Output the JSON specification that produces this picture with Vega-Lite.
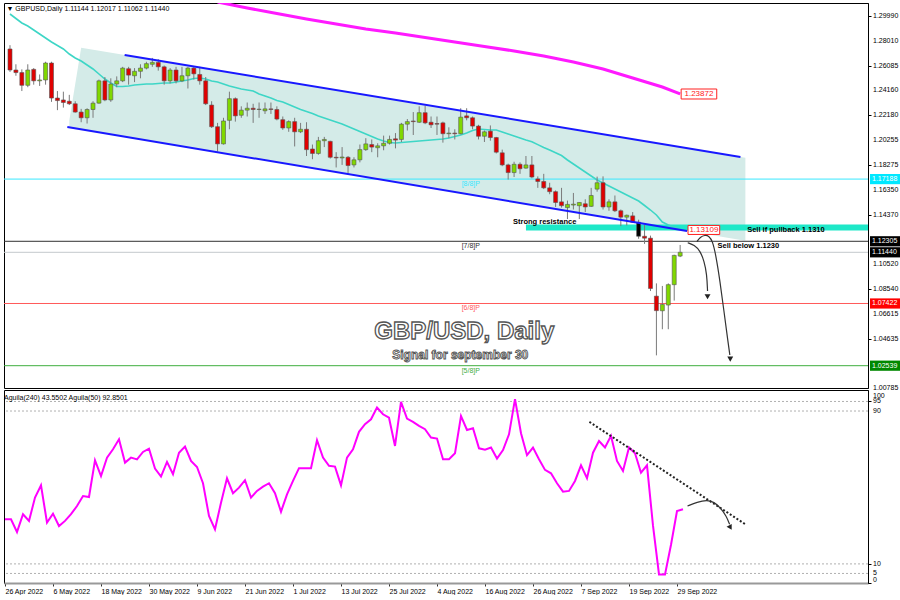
{
  "$schema": "https://vega.github.io/schema/vega-lite/v6.json",
  "background": "white",
  "padding": {"left": 0, "top": 2, "right": 0, "bottom": 0},
  "spacing": 2,
  "bounds": "flush",
  "config": {
    "view": {"stroke": "#000000", "strokeWidth": 1},
    "font": "Liberation Sans",
    "axis": {"labelFont": "Liberation Sans", "labelFontSize": 7, "labelColor": "#000000", "tickColor": "#000000", "domainColor": "#000000", "grid": false, "title": null, "labelOverlap": false, "labelBound": false}
  },
  "datasets": {
    "candles": [
      {"t":0,"date":"2022-04-26","o":1.2740,"h":1.2770,"l":1.2560,"c":1.2575,"ma":1.30147,"osc":33.3},
      {"t":1,"date":"2022-04-27","o":1.2575,"h":1.2620,"l":1.2530,"c":1.2555,"ma":1.29794,"osc":33.3},
      {"t":2,"date":"2022-04-28","o":1.2555,"h":1.2580,"l":1.2410,"c":1.2455,"ma":1.29441,"osc":26.7},
      {"t":3,"date":"2022-04-29","o":1.2455,"h":1.2620,"l":1.2440,"c":1.2575,"ma":1.29205,"osc":36.0},
      {"t":4,"date":"2022-05-02","o":1.2580,"h":1.2590,"l":1.2460,"c":1.2490,"ma":1.28891,"osc":32.5},
      {"t":5,"date":"2022-05-03","o":1.2490,"h":1.2540,"l":1.2450,"c":1.2497,"ma":1.28577,"osc":44.7},
      {"t":6,"date":"2022-05-04","o":1.2497,"h":1.2640,"l":1.2460,"c":1.2630,"ma":1.28263,"osc":51.1},
      {"t":7,"date":"2022-05-05","o":1.2630,"h":1.2640,"l":1.2325,"c":1.2355,"ma":1.27949,"osc":31.6},
      {"t":8,"date":"2022-05-06","o":1.2355,"h":1.2410,"l":1.2260,"c":1.2335,"ma":1.27674,"osc":36.3},
      {"t":9,"date":"2022-05-09","o":1.2340,"h":1.2405,"l":1.2280,"c":1.2320,"ma":1.27400,"osc":29.8},
      {"t":10,"date":"2022-05-10","o":1.2330,"h":1.2380,"l":1.2300,"c":1.2310,"ma":1.27007,"osc":32.5},
      {"t":11,"date":"2022-05-11","o":1.2310,"h":1.2330,"l":1.2240,"c":1.2245,"ma":1.26693,"osc":36.0},
      {"t":12,"date":"2022-05-12","o":1.2245,"h":1.2270,"l":1.2165,"c":1.2200,"ma":1.26458,"osc":40.3},
      {"t":13,"date":"2022-05-13","o":1.2200,"h":1.2275,"l":1.2155,"c":1.2265,"ma":1.26144,"osc":45.5},
      {"t":14,"date":"2022-05-16","o":1.2265,"h":1.2330,"l":1.2200,"c":1.2315,"ma":1.25830,"osc":45.0},
      {"t":15,"date":"2022-05-17","o":1.2315,"h":1.2500,"l":1.2310,"c":1.2490,"ma":1.25437,"osc":64.2},
      {"t":16,"date":"2022-05-18","o":1.2490,"h":1.2520,"l":1.2330,"c":1.2340,"ma":1.25045,"osc":56.0},
      {"t":17,"date":"2022-05-19","o":1.2340,"h":1.2510,"l":1.2325,"c":1.2465,"ma":1.24730,"osc":65.6},
      {"t":18,"date":"2022-05-20","o":1.2465,"h":1.2525,"l":1.2440,"c":1.2490,"ma":1.24456,"osc":70.0},
      {"t":19,"date":"2022-05-23","o":1.2490,"h":1.2600,"l":1.2480,"c":1.2590,"ma":1.24456,"osc":75.2},
      {"t":20,"date":"2022-05-24","o":1.2585,"h":1.2600,"l":1.2460,"c":1.2535,"ma":1.24495,"osc":63.0},
      {"t":21,"date":"2022-05-25","o":1.2530,"h":1.2590,"l":1.2480,"c":1.2565,"ma":1.24574,"osc":65.6},
      {"t":22,"date":"2022-05-26","o":1.2565,"h":1.2620,"l":1.2510,"c":1.2590,"ma":1.24613,"osc":64.7},
      {"t":23,"date":"2022-05-27","o":1.2590,"h":1.2640,"l":1.2580,"c":1.2625,"ma":1.24652,"osc":68.6},
      {"t":24,"date":"2022-05-30","o":1.2620,"h":1.2670,"l":1.2600,"c":1.2635,"ma":1.24652,"osc":70.3},
      {"t":25,"date":"2022-05-31","o":1.2635,"h":1.2660,"l":1.2570,"c":1.2600,"ma":1.24692,"osc":59.9},
      {"t":26,"date":"2022-06-01","o":1.2600,"h":1.2610,"l":1.2460,"c":1.2490,"ma":1.24731,"osc":55.7},
      {"t":27,"date":"2022-06-02","o":1.2490,"h":1.2590,"l":1.2470,"c":1.2575,"ma":1.24731,"osc":63.4},
      {"t":28,"date":"2022-06-03","o":1.2575,"h":1.2600,"l":1.2470,"c":1.2490,"ma":1.24809,"osc":56.9},
      {"t":29,"date":"2022-06-06","o":1.2490,"h":1.2600,"l":1.2480,"c":1.2530,"ma":1.24888,"osc":68.2},
      {"t":30,"date":"2022-06-07","o":1.2530,"h":1.2600,"l":1.2430,"c":1.2590,"ma":1.24966,"osc":71.4},
      {"t":31,"date":"2022-06-08","o":1.2590,"h":1.2600,"l":1.2500,"c":1.2545,"ma":1.25084,"osc":63.9},
      {"t":32,"date":"2022-06-09","o":1.2540,"h":1.2600,"l":1.2460,"c":1.2490,"ma":1.25123,"osc":60.7},
      {"t":33,"date":"2022-06-10","o":1.2490,"h":1.2520,"l":1.2300,"c":1.2310,"ma":1.25045,"osc":52.2},
      {"t":34,"date":"2022-06-13","o":1.2300,"h":1.2330,"l":1.2120,"c":1.2130,"ma":1.24888,"osc":35.1},
      {"t":35,"date":"2022-06-14","o":1.2130,"h":1.2160,"l":1.1935,"c":1.1995,"ma":1.24809,"osc":28.1},
      {"t":36,"date":"2022-06-15","o":1.1995,"h":1.2200,"l":1.1990,"c":1.2175,"ma":1.24652,"osc":42.0},
      {"t":37,"date":"2022-06-16","o":1.2180,"h":1.2405,"l":1.2110,"c":1.2350,"ma":1.24495,"osc":54.8},
      {"t":38,"date":"2022-06-17","o":1.2350,"h":1.2360,"l":1.2170,"c":1.2215,"ma":1.24377,"osc":47.0},
      {"t":39,"date":"2022-06-20","o":1.2220,"h":1.2290,"l":1.2200,"c":1.2260,"ma":1.24260,"osc":49.9},
      {"t":40,"date":"2022-06-21","o":1.2260,"h":1.2320,"l":1.2210,"c":1.2275,"ma":1.24181,"osc":53.8},
      {"t":41,"date":"2022-06-22","o":1.2275,"h":1.2310,"l":1.2160,"c":1.2265,"ma":1.24103,"osc":44.7},
      {"t":42,"date":"2022-06-23","o":1.2265,"h":1.2320,"l":1.2200,"c":1.2268,"ma":1.23867,"osc":48.2},
      {"t":43,"date":"2022-06-24","o":1.2255,"h":1.2320,"l":1.2230,"c":1.2270,"ma":1.23710,"osc":50.4},
      {"t":44,"date":"2022-06-27","o":1.2270,"h":1.2320,"l":1.2230,"c":1.2265,"ma":1.23553,"osc":52.2},
      {"t":45,"date":"2022-06-28","o":1.2265,"h":1.2290,"l":1.2180,"c":1.2190,"ma":1.23357,"osc":47.0},
      {"t":46,"date":"2022-06-29","o":1.2185,"h":1.2210,"l":1.2105,"c":1.2120,"ma":1.23239,"osc":37.3},
      {"t":47,"date":"2022-06-30","o":1.2120,"h":1.2180,"l":1.2090,"c":1.2170,"ma":1.23043,"osc":46.4},
      {"t":48,"date":"2022-07-01","o":1.2170,"h":1.2200,"l":1.1975,"c":1.2090,"ma":1.22846,"osc":53.4},
      {"t":49,"date":"2022-07-04","o":1.2090,"h":1.2160,"l":1.2080,"c":1.2110,"ma":1.22650,"osc":60.1},
      {"t":50,"date":"2022-07-05","o":1.2110,"h":1.2165,"l":1.1900,"c":1.1950,"ma":1.22493,"osc":60.1},
      {"t":51,"date":"2022-07-06","o":1.1955,"h":1.1990,"l":1.1875,"c":1.1920,"ma":1.22336,"osc":60.1},
      {"t":52,"date":"2022-07-07","o":1.1920,"h":1.2050,"l":1.1910,"c":1.2020,"ma":1.22140,"osc":74.7},
      {"t":53,"date":"2022-07-08","o":1.2020,"h":1.2050,"l":1.1970,"c":1.2030,"ma":1.21983,"osc":65.6},
      {"t":54,"date":"2022-07-11","o":1.2015,"h":1.2020,"l":1.1880,"c":1.1890,"ma":1.21826,"osc":61.3},
      {"t":55,"date":"2022-07-12","o":1.1890,"h":1.1930,"l":1.1810,"c":1.1885,"ma":1.21669,"osc":60.9},
      {"t":56,"date":"2022-07-13","o":1.1885,"h":1.1970,"l":1.1830,"c":1.1892,"ma":1.21512,"osc":51.1},
      {"t":57,"date":"2022-07-14","o":1.1890,"h":1.1900,"l":1.1760,"c":1.1825,"ma":1.21316,"osc":65.6},
      {"t":58,"date":"2022-07-15","o":1.1830,"h":1.1890,"l":1.1810,"c":1.1870,"ma":1.21119,"osc":70.0},
      {"t":59,"date":"2022-07-18","o":1.1870,"h":1.1990,"l":1.1850,"c":1.1950,"ma":1.20923,"osc":79.1},
      {"t":60,"date":"2022-07-19","o":1.1950,"h":1.2040,"l":1.1940,"c":1.1995,"ma":1.20727,"osc":83.1},
      {"t":61,"date":"2022-07-20","o":1.1990,"h":1.2030,"l":1.1930,"c":1.1970,"ma":1.20531,"osc":85.7},
      {"t":62,"date":"2022-07-21","o":1.1965,"h":1.2000,"l":1.1890,"c":1.1980,"ma":1.20334,"osc":91.8},
      {"t":63,"date":"2022-07-22","o":1.1980,"h":1.2060,"l":1.1945,"c":1.2000,"ma":1.20178,"osc":88.3},
      {"t":64,"date":"2022-07-25","o":1.2000,"h":1.2060,"l":1.1990,"c":1.2030,"ma":1.20060,"osc":86.5},
      {"t":65,"date":"2022-07-26","o":1.2035,"h":1.2080,"l":1.1960,"c":1.2025,"ma":1.20020,"osc":71.7},
      {"t":66,"date":"2022-07-27","o":1.2030,"h":1.2160,"l":1.2010,"c":1.2150,"ma":1.20060,"osc":94.8},
      {"t":67,"date":"2022-07-28","o":1.2150,"h":1.2190,"l":1.2100,"c":1.2170,"ma":1.20099,"osc":86.0},
      {"t":68,"date":"2022-07-29","o":1.2175,"h":1.2245,"l":1.2065,"c":1.2170,"ma":1.20139,"osc":84.3},
      {"t":69,"date":"2022-08-01","o":1.2165,"h":1.2290,"l":1.2160,"c":1.2240,"ma":1.20178,"osc":82.2},
      {"t":70,"date":"2022-08-02","o":1.2240,"h":1.2295,"l":1.2150,"c":1.2160,"ma":1.20217,"osc":80.5},
      {"t":71,"date":"2022-08-03","o":1.2165,"h":1.2210,"l":1.2120,"c":1.2145,"ma":1.20256,"osc":76.1},
      {"t":72,"date":"2022-08-04","o":1.2155,"h":1.2210,"l":1.2065,"c":1.2150,"ma":1.20296,"osc":75.6},
      {"t":73,"date":"2022-08-05","o":1.2160,"h":1.2170,"l":1.2005,"c":1.2075,"ma":1.20335,"osc":64.8},
      {"t":74,"date":"2022-08-08","o":1.2075,"h":1.2125,"l":1.2040,"c":1.2080,"ma":1.20413,"osc":64.8},
      {"t":75,"date":"2022-08-09","o":1.2080,"h":1.2110,"l":1.2030,"c":1.2075,"ma":1.20531,"osc":67.9},
      {"t":76,"date":"2022-08-10","o":1.2075,"h":1.2275,"l":1.2070,"c":1.2205,"ma":1.20649,"osc":87.4},
      {"t":77,"date":"2022-08-11","o":1.2215,"h":1.2275,"l":1.2180,"c":1.2200,"ma":1.20806,"osc":80.1},
      {"t":78,"date":"2022-08-12","o":1.2200,"h":1.2210,"l":1.2110,"c":1.2135,"ma":1.21002,"osc":81.0},
      {"t":79,"date":"2022-08-15","o":1.2135,"h":1.2145,"l":1.2030,"c":1.2055,"ma":1.21120,"osc":70.5},
      {"t":80,"date":"2022-08-16","o":1.2055,"h":1.2100,"l":1.2010,"c":1.2090,"ma":1.21080,"osc":69.8},
      {"t":81,"date":"2022-08-17","o":1.2095,"h":1.2140,"l":1.2020,"c":1.2045,"ma":1.21041,"osc":70.9},
      {"t":82,"date":"2022-08-18","o":1.2045,"h":1.2050,"l":1.1920,"c":1.1930,"ma":1.21041,"osc":65.1},
      {"t":83,"date":"2022-08-19","o":1.1925,"h":1.1950,"l":1.1820,"c":1.1830,"ma":1.20884,"osc":69.6},
      {"t":84,"date":"2022-08-22","o":1.1830,"h":1.1840,"l":1.1715,"c":1.1770,"ma":1.20727,"osc":77.8},
      {"t":85,"date":"2022-08-23","o":1.1770,"h":1.1855,"l":1.1735,"c":1.1835,"ma":1.20570,"osc":96.2},
      {"t":86,"date":"2022-08-24","o":1.1835,"h":1.1850,"l":1.1760,"c":1.1800,"ma":1.20413,"osc":78.4},
      {"t":87,"date":"2022-08-25","o":1.1805,"h":1.1900,"l":1.1800,"c":1.1830,"ma":1.20256,"osc":66.9},
      {"t":88,"date":"2022-08-26","o":1.1830,"h":1.1900,"l":1.1725,"c":1.1735,"ma":1.20123,"osc":70.9},
      {"t":89,"date":"2022-08-29","o":1.1720,"h":1.1740,"l":1.1650,"c":1.1700,"ma":1.19895,"osc":64.8},
      {"t":90,"date":"2022-08-30","o":1.1700,"h":1.1760,"l":1.1640,"c":1.1650,"ma":1.19675,"osc":59.2},
      {"t":91,"date":"2022-08-31","o":1.1650,"h":1.1690,"l":1.1600,"c":1.1620,"ma":1.19471,"osc":57.4},
      {"t":92,"date":"2022-09-01","o":1.1620,"h":1.1630,"l":1.1500,"c":1.1535,"ma":1.19251,"osc":52.2},
      {"t":93,"date":"2022-09-02","o":1.1540,"h":1.1650,"l":1.1495,"c":1.1510,"ma":1.19039,"osc":47.8},
      {"t":94,"date":"2022-09-05","o":1.1495,"h":1.1550,"l":1.1405,"c":1.1520,"ma":1.18686,"osc":48.2},
      {"t":95,"date":"2022-09-06","o":1.1515,"h":1.1610,"l":1.1480,"c":1.1522,"ma":1.18372,"osc":53.4},
      {"t":96,"date":"2022-09-07","o":1.1510,"h":1.1535,"l":1.1405,"c":1.1535,"ma":1.18058,"osc":61.6},
      {"t":97,"date":"2022-09-08","o":1.1525,"h":1.1560,"l":1.1460,"c":1.1500,"ma":1.17744,"osc":54.8},
      {"t":98,"date":"2022-09-09","o":1.1505,"h":1.1650,"l":1.1500,"c":1.1590,"ma":1.17430,"osc":68.2},
      {"t":99,"date":"2022-09-12","o":1.1640,"h":1.1738,"l":1.1620,"c":1.1690,"ma":1.17116,"osc":74.3},
      {"t":100,"date":"2022-09-13","o":1.1690,"h":1.1740,"l":1.1480,"c":1.1500,"ma":1.16880,"osc":70.9},
      {"t":101,"date":"2022-09-14","o":1.1500,"h":1.1560,"l":1.1470,"c":1.1540,"ma":1.16645,"osc":77.0},
      {"t":102,"date":"2022-09-15","o":1.1540,"h":1.1590,"l":1.1460,"c":1.1470,"ma":1.16409,"osc":63.9},
      {"t":103,"date":"2022-09-16","o":1.1470,"h":1.1480,"l":1.1350,"c":1.1420,"ma":1.16174,"osc":58.6},
      {"t":104,"date":"2022-09-19","o":1.1420,"h":1.1440,"l":1.1355,"c":1.1435,"ma":1.15939,"osc":70.9},
      {"t":105,"date":"2022-09-20","o":1.1430,"h":1.1460,"l":1.1375,"c":1.1380,"ma":1.15703,"osc":67.9},
      {"t":106,"date":"2022-09-21","o":1.1380,"h":1.1400,"l":1.1250,"c":1.1270,"ma":1.15468,"osc":57.7},
      {"t":107,"date":"2022-09-22","o":1.1270,"h":1.1360,"l":1.1210,"c":1.1255,"ma":1.15114,"osc":61.6},
      {"t":108,"date":"2022-09-23","o":1.1255,"h":1.1275,"l":1.0840,"c":1.0860,"ma":1.14761,"osc":30.0},
      {"t":109,"date":"2022-09-26","o":1.0800,"h":1.0900,"l":1.0335,"c":1.0686,"ma":1.14369,"osc":4.5},
      {"t":110,"date":"2022-09-27","o":1.0685,"h":1.0880,"l":1.0540,"c":1.0735,"ma":1.13819,"osc":4.5},
      {"t":111,"date":"2022-09-28","o":1.0730,"h":1.0900,"l":1.0540,"c":1.0890,"ma":1.13584,"osc":20.0},
      {"t":112,"date":"2022-09-29","o":1.0890,"h":1.1125,"l":1.0765,"c":1.1120,"ma":1.13427,"osc":37.7},
      {"t":113,"date":"2022-09-30","o":1.11144,"h":1.12017,"l":1.11062,"c":1.1144,"ma":1.13270,"osc":38.6}
    ],
    "ma200": [
      {"t":35,"p":1.31089},{"t":40,"p":1.30618},{"t":45,"p":1.30186},{"t":50,"p":1.29755},
      {"t":55,"p":1.29362},{"t":60,"p":1.28970},{"t":65,"p":1.28656},{"t":70,"p":1.28302},
      {"t":75,"p":1.27949},{"t":80,"p":1.27596},{"t":85,"p":1.27243},{"t":90,"p":1.26850},
      {"t":95,"p":1.26379},{"t":100,"p":1.25830},{"t":105,"p":1.25123},{"t":110,"p":1.24416},
      {"t":113,"p":1.23872}
    ],
    "channel": [
      {"line":"upper","t":19.33,"p":1.26929},{"line":"upper","t":123.17,"p":1.18921},
      {"line":"lower","t":9.67,"p":1.21277},{"line":"lower","t":114.17,"p":1.13109}
    ],
    "channelFill": [
      {"t":10,"top":1.21795,"bot":1.21253},
      {"t":12,"top":1.27494,"bot":1.21096},
      {"t":124,"top":1.18859,"bot":1.12343}
    ],
    "levels": [
      {"level":"8/8","price":1.17188,"label":"[8/8]P","t":77.7},
      {"level":"7/8","price":1.12305,"label":"[7/8]P","t":77.7},
      {"level":"bid","price":1.1144,"label":"","t":77.7},
      {"level":"6/8","price":1.07422,"label":"[6/8]P","t":77.7},
      {"level":"5/8","price":1.02539,"label":"[5/8]P","t":77.7}
    ],
    "priceTicks": [
      {"p":1.2999},{"p":1.2801},{"p":1.26085},{"p":1.2416},{"p":1.2218},{"p":1.20255},{"p":1.18275},
      {"p":1.1635},{"p":1.1437},{"p":1.1052},{"p":1.0854},{"p":1.06615},{"p":1.04635},{"p":1.00785}
    ],
    "oscTicks": [{"v":0},{"v":5},{"v":10},{"v":90},{"v":95},{"v":100}],
    "band": [{"t":87,"p1":1.1362,"p2":1.1315}],
    "tags": [
      {"t1":114.33,"t2":119.67,"p1":1.13547,"p2":1.12841,"tc":117.0,"pc":1.13194,"label":"1.13109"},
      {"t1":113.17,"t2":119.17,"p1":1.24259,"p2":1.23475,"tc":116.17,"pc":1.23867,"label":"1.23872"}
    ],
    "notesRight": [{"t":95.5,"p":1.13843,"text":"Strong resistance"}],
    "notesLeft": [
      {"t":124.3,"p":1.13191,"text":"Sell if pullback 1.1310"},
      {"t":119.3,"p":1.11959,"text":"Sell below 1.1230"}
    ],
    "arrows": [
      {"arrow":"a1","k":0,"t":114.28,"p":1.12194},{"arrow":"a1","k":1,"t":115.38,"p":1.12014},
      {"arrow":"a1","k":2,"t":116.38,"p":1.11542},{"arrow":"a1","k":3,"t":117.05,"p":1.10757},
      {"arrow":"a1","k":4,"t":117.5,"p":1.09713},{"arrow":"a1","k":5,"t":117.62,"p":1.08403},
      {"arrow":"a2","k":0,"t":115.83,"p":1.12272},{"arrow":"a2","k":1,"t":116.38,"p":1.12642},
      {"arrow":"a2","k":2,"t":117.17,"p":1.12799},{"arrow":"a2","k":3,"t":117.88,"p":1.1272},
      {"arrow":"a2","k":4,"t":118.45,"p":1.12328},{"arrow":"a2","k":5,"t":119.0,"p":1.11283},
      {"arrow":"a2","k":6,"t":119.72,"p":1.09188},{"arrow":"a2","k":7,"t":120.38,"p":1.06833},
      {"arrow":"a2","k":8,"t":121.05,"p":1.04478},{"arrow":"a2","k":9,"t":121.38,"p":1.03379}
    ],
    "heads": [{"t":117.62,"p":1.0795},{"t":121.45,"p":1.0305}],
    "bigTitle": [{"t":76.6,"p":1.05184,"text":"GBP/USD, Daily"}],
    "subTitle": [{"t":75.92,"p":1.03379,"text":"Signal for september 30"}],
    "oscGrid": [{"v":5},{"v":10},{"v":90},{"v":95}],
    "oscTrend": [{"t":97.4,"v":84.3},{"t":123.4,"v":30.7}],
    "oscArrow": [
      {"k":0,"t":113.75,"v":40.3},{"k":1,"t":115.37,"v":42.4},{"k":2,"t":116.98,"v":43.4},
      {"k":3,"t":118.18,"v":42.4},{"k":4,"t":119.23,"v":39.4},{"k":5,"t":120.22,"v":35.1},
      {"k":6,"t":120.77,"v":30.7}
    ],
    "oscHead": [{"t":120.9,"v":29.0}]
  },
  "vconcat": [
    {
      "width": 864,
      "height": 385,
      "title": {"text": "▼ GBPUSD,Daily  1.11144 1.12017 1.11062 1.11440", "anchor": "start", "offset": -8.5, "dx": 3, "fontSize": 7, "fontWeight": "normal", "font": "Liberation Sans", "color": "#000000", "baseline": "top"},
      "layer": [
        {
          "data": {"name": "channelFill"},
          "mark": {"type": "area", "color": "#d4ebe8", "opacity": 1},
          "encoding": {
            "x": {"field": "t", "type": "quantitative", "scale": {"domain": [-0.167, 143.833], "nice": false, "zero": false}, "axis": null},
            "y": {"field": "top", "type": "quantitative", "scale": {"domain": [1.00788, 1.31011], "nice": false, "zero": false},
                  "axis": {"orient": "right", "title": null, "values": [1.2999, 1.2801, 1.26085, 1.2416, 1.2218, 1.20255, 1.18275, 1.1635, 1.1437, 1.1052, 1.0854, 1.06615, 1.04635, 1.00785], "labels": false, "tickSize": 3}},
            "y2": {"field": "bot"}
          }
        },
        {
          "data": {"name": "priceTicks"},
          "mark": {"type": "text", "align": "left", "baseline": "middle", "fontSize": 7, "font": "Liberation Sans", "color": "#000000", "xOffset": 5},
          "encoding": {
            "x": {"value": "width"},
            "y": {"field": "p", "type": "quantitative", "scale": {"domain": [1.00788, 1.31011], "nice": false, "zero": false}},
            "text": {"field": "p", "format": ".5f"}
          }
        },
        {
          "data": {"name": "levels"},
          "mark": {"type": "rule", "strokeWidth": 1},
          "encoding": {
            "y": {"field": "price", "type": "quantitative", "scale": {"domain": [1.00788, 1.31011], "nice": false, "zero": false}},
            "color": {"field": "level", "type": "nominal", "legend": null,
                      "scale": {"domain": ["8/8", "7/8", "bid", "6/8", "5/8"], "range": ["#38e8ff", "#303030", "#c4c8cc", "#ff5a5a", "#3fae3f"]}}
          }
        },
        {
          "data": {"name": "band"},
          "mark": {"type": "rect", "color": "#1ee8c8"},
          "encoding": {
            "x": {"field": "t", "type": "quantitative", "scale": {"domain": [-0.167, 143.833], "nice": false, "zero": false}, "axis": null},
            "x2": {"value": "width"},
            "y": {"field": "p1", "type": "quantitative", "scale": {"domain": [1.00788, 1.31011], "nice": false, "zero": false}},
            "y2": {"field": "p2"}
          }
        },
        {
          "data": {"name": "ma200"},
          "mark": {"type": "line", "color": "#ff1aff", "strokeWidth": 3, "clip": true},
          "encoding": {
            "x": {"field": "t", "type": "quantitative", "scale": {"domain": [-0.167, 143.833], "nice": false, "zero": false}, "axis": null},
            "y": {"field": "p", "type": "quantitative", "scale": {"domain": [1.00788, 1.31011], "nice": false, "zero": false}}
          }
        },
        {
          "data": {"name": "candles"},
          "mark": {"type": "line", "color": "#3ed6c6", "strokeWidth": 1.6, "clip": true},
          "encoding": {
            "x": {"field": "t", "type": "quantitative", "scale": {"domain": [-0.167, 143.833], "nice": false, "zero": false}, "axis": null},
            "y": {"field": "ma", "type": "quantitative", "scale": {"domain": [1.00788, 1.31011], "nice": false, "zero": false}}
          }
        },
        {
          "data": {"name": "candles"},
          "mark": {"type": "rule", "color": "#7a7a7a", "strokeWidth": 1},
          "encoding": {
            "x": {"field": "t", "type": "quantitative", "scale": {"domain": [-0.167, 143.833], "nice": false, "zero": false}, "axis": null},
            "y": {"field": "l", "type": "quantitative", "scale": {"domain": [1.00788, 1.31011], "nice": false, "zero": false}},
            "y2": {"field": "h"}
          }
        },
        {
          "data": {"name": "candles"},
          "mark": {"type": "bar", "width": 4, "stroke": "#555555", "strokeWidth": 0.6},
          "encoding": {
            "x": {"field": "t", "type": "quantitative", "scale": {"domain": [-0.167, 143.833], "nice": false, "zero": false}, "axis": null},
            "y": {"field": "o", "type": "quantitative", "scale": {"domain": [1.00788, 1.31011], "nice": false, "zero": false}},
            "y2": {"field": "c"},
            "fill": {"condition": [{"test": "datum.date === '2022-09-21'", "value": "#000000"}, {"test": "datum.c >= datum.o", "value": "#80d800"}], "value": "#e00000"}
          }
        },
        {
          "data": {"name": "channel"},
          "mark": {"type": "line", "color": "#1818ff", "strokeWidth": 2},
          "encoding": {
            "x": {"field": "t", "type": "quantitative", "scale": {"domain": [-0.167, 143.833], "nice": false, "zero": false}, "axis": null},
            "y": {"field": "p", "type": "quantitative", "scale": {"domain": [1.00788, 1.31011], "nice": false, "zero": false}},
            "detail": {"field": "line", "type": "nominal"}
          }
        },
        {
          "data": {"name": "levels"},
          "mark": {"type": "text", "baseline": "top", "align": "center", "dy": 1, "fontSize": 7, "font": "Liberation Sans"},
          "encoding": {
            "x": {"field": "t", "type": "quantitative", "scale": {"domain": [-0.167, 143.833], "nice": false, "zero": false}, "axis": null},
            "y": {"field": "price", "type": "quantitative", "scale": {"domain": [1.00788, 1.31011], "nice": false, "zero": false}},
            "text": {"field": "label"},
            "color": {"field": "level", "type": "nominal", "legend": null,
                      "scale": {"domain": ["8/8", "7/8", "bid", "6/8", "5/8"], "range": ["#38e8ff", "#303030", "#c4c8cc", "#ff5a5a", "#3fae3f"]}}
          }
        },
        {
          "data": {"name": "tags"},
          "mark": {"type": "rect", "fill": "#ffffff", "stroke": "#ff2020", "strokeWidth": 1},
          "encoding": {
            "x": {"field": "t1", "type": "quantitative", "scale": {"domain": [-0.167, 143.833], "nice": false, "zero": false}, "axis": null},
            "x2": {"field": "t2"},
            "y": {"field": "p1", "type": "quantitative", "scale": {"domain": [1.00788, 1.31011], "nice": false, "zero": false}},
            "y2": {"field": "p2"}
          }
        },
        {
          "data": {"name": "tags"},
          "mark": {"type": "text", "color": "#ff2020", "fontSize": 8, "font": "Liberation Sans", "baseline": "middle", "align": "center"},
          "encoding": {
            "x": {"field": "tc", "type": "quantitative", "scale": {"domain": [-0.167, 143.833], "nice": false, "zero": false}, "axis": null},
            "y": {"field": "pc", "type": "quantitative", "scale": {"domain": [1.00788, 1.31011], "nice": false, "zero": false}},
            "text": {"field": "label"}
          }
        },
        {
          "data": {"name": "levels"},
          "mark": {"type": "point", "shape": "M0,-0.34L2,-0.34L2,0.34L0,0.34Z", "size": 900, "filled": true, "opacity": 1, "strokeWidth": 0, "xOffset": 2},
          "encoding": {
            "x": {"value": "width"},
            "y": {"field": "price", "type": "quantitative", "scale": {"domain": [1.00788, 1.31011], "nice": false, "zero": false}},
            "fill": {"field": "level", "type": "nominal", "legend": null,
                     "scale": {"domain": ["8/8", "7/8", "bid", "6/8", "5/8"], "range": ["#00e8ff", "#000000", "#000000", "#ff0000", "#008800"]}}
          }
        },
        {
          "data": {"name": "levels"},
          "mark": {"type": "text", "color": "#ffffff", "fontSize": 7, "font": "Liberation Sans", "align": "left", "baseline": "middle", "xOffset": 4},
          "encoding": {
            "x": {"value": "width"},
            "y": {"field": "price", "type": "quantitative", "scale": {"domain": [1.00788, 1.31011], "nice": false, "zero": false}},
            "text": {"field": "price", "format": ".5f"}
          }
        },
        {
          "data": {"name": "notesRight"},
          "mark": {"type": "text", "color": "#000000", "fontSize": 7.5, "fontWeight": "bold", "font": "Liberation Sans", "align": "right", "baseline": "middle"},
          "encoding": {
            "x": {"field": "t", "type": "quantitative", "scale": {"domain": [-0.167, 143.833], "nice": false, "zero": false}, "axis": null},
            "y": {"field": "p", "type": "quantitative", "scale": {"domain": [1.00788, 1.31011], "nice": false, "zero": false}},
            "text": {"field": "text"}
          }
        },
        {
          "data": {"name": "notesLeft"},
          "mark": {"type": "text", "color": "#000000", "fontSize": 7.5, "fontWeight": "bold", "font": "Liberation Sans", "align": "left", "baseline": "middle"},
          "encoding": {
            "x": {"field": "t", "type": "quantitative", "scale": {"domain": [-0.167, 143.833], "nice": false, "zero": false}, "axis": null},
            "y": {"field": "p", "type": "quantitative", "scale": {"domain": [1.00788, 1.31011], "nice": false, "zero": false}},
            "text": {"field": "text"}
          }
        },
        {
          "data": {"name": "arrows"},
          "mark": {"type": "line", "color": "#333333", "strokeWidth": 1.2, "interpolate": "basis"},
          "encoding": {
            "x": {"field": "t", "type": "quantitative", "scale": {"domain": [-0.167, 143.833], "nice": false, "zero": false}, "axis": null},
            "y": {"field": "p", "type": "quantitative", "scale": {"domain": [1.00788, 1.31011], "nice": false, "zero": false}},
            "detail": {"field": "arrow", "type": "nominal"},
            "order": {"field": "k", "type": "quantitative"}
          }
        },
        {
          "data": {"name": "heads"},
          "mark": {"type": "point", "shape": "triangle-down", "filled": true, "color": "#222222", "size": 35, "opacity": 1},
          "encoding": {
            "x": {"field": "t", "type": "quantitative", "scale": {"domain": [-0.167, 143.833], "nice": false, "zero": false}, "axis": null},
            "y": {"field": "p", "type": "quantitative", "scale": {"domain": [1.00788, 1.31011], "nice": false, "zero": false}}
          }
        },
        {
          "data": {"name": "bigTitle"},
          "mark": {"type": "text", "fontSize": 24, "fontWeight": "bold", "font": "Liberation Sans", "fill": "#ffffff", "stroke": "#555555", "strokeWidth": 1.3, "align": "center", "baseline": "middle"},
          "encoding": {
            "x": {"field": "t", "type": "quantitative", "scale": {"domain": [-0.167, 143.833], "nice": false, "zero": false}, "axis": null},
            "y": {"field": "p", "type": "quantitative", "scale": {"domain": [1.00788, 1.31011], "nice": false, "zero": false}},
            "text": {"field": "text"}
          }
        },
        {
          "data": {"name": "subTitle"},
          "mark": {"type": "text", "fontSize": 12, "fontWeight": "bold", "font": "Liberation Sans", "fill": "#ffffff", "stroke": "#555555", "strokeWidth": 0.9, "align": "center", "baseline": "middle"},
          "encoding": {
            "x": {"field": "t", "type": "quantitative", "scale": {"domain": [-0.167, 143.833], "nice": false, "zero": false}, "axis": null},
            "y": {"field": "p", "type": "quantitative", "scale": {"domain": [1.00788, 1.31011], "nice": false, "zero": false}},
            "text": {"field": "text"}
          }
        }
      ]
    },
    {
      "width": 864,
      "height": 193,
      "title": {"text": "Aguila(240) 43.5502  Aguila(50) 92.8501", "anchor": "start", "offset": -11, "dx": 3, "fontSize": 7, "fontWeight": "normal", "font": "Liberation Sans", "color": "#000000", "baseline": "top"},
      "layer": [
        {
          "data": {"name": "oscGrid"},
          "mark": {"type": "rule", "color": "#b0b0b0", "strokeWidth": 1, "strokeDash": [2, 2]},
          "encoding": {
            "y": {"field": "v", "type": "quantitative", "scale": {"domain": [0, 101], "nice": false, "zero": false},
                  "axis": {"orient": "right", "title": null, "values": [0, 5, 10, 90, 95, 100], "labels": false, "tickSize": 3}}
          }
        },
        {
          "data": {"name": "oscTicks"},
          "transform": [{"filter": "datum.v > 0 && datum.v < 100"}],
          "mark": {"type": "text", "align": "left", "baseline": "middle", "fontSize": 7, "font": "Liberation Sans", "color": "#000000", "xOffset": 5},
          "encoding": {
            "x": {"value": "width"},
            "y": {"field": "v", "type": "quantitative", "scale": {"domain": [0, 101], "nice": false, "zero": false}},
            "text": {"field": "v", "format": "d"}
          }
        },
        {
          "data": {"name": "oscTicks"},
          "transform": [{"filter": "datum.v == 100"}],
          "mark": {"type": "text", "align": "left", "baseline": "top", "fontSize": 7, "font": "Liberation Sans", "color": "#000000", "xOffset": 5},
          "encoding": {
            "x": {"value": "width"},
            "y": {"field": "v", "type": "quantitative", "scale": {"domain": [0, 101], "nice": false, "zero": false}},
            "text": {"field": "v", "format": "d"}
          }
        },
        {
          "data": {"name": "oscTicks"},
          "transform": [{"filter": "datum.v == 0"}],
          "mark": {"type": "text", "align": "left", "baseline": "bottom", "fontSize": 7, "font": "Liberation Sans", "color": "#000000", "xOffset": 5},
          "encoding": {
            "x": {"value": "width"},
            "y": {"field": "v", "type": "quantitative", "scale": {"domain": [0, 101], "nice": false, "zero": false}},
            "text": {"field": "v", "format": "d"}
          }
        },
        {
          "data": {"name": "candles"},
          "mark": {"type": "line", "color": "#ff00ff", "strokeWidth": 2},
          "encoding": {
            "x": {"field": "t", "type": "quantitative", "scale": {"domain": [-0.167, 143.833], "nice": false, "zero": false},
                  "axis": {"title": null, "values": [0, 8, 16, 24, 32, 40, 48, 56, 64, 72, 80, 88, 96, 104, 112],
                           "labelExpr": "['26 Apr 2022','6 May 2022','18 May 2022','30 May 2022','9 Jun 2022','21 Jun 2022','1 Jul 2022','13 Jul 2022','25 Jul 2022','4 Aug 2022','16 Aug 2022','26 Aug 2022','7 Sep 2022','19 Sep 2022','29 Sep 2022'][round(datum.value / 8)]",
                           "labelAlign": "left", "labelPadding": 1, "tickSize": 3, "labelFontSize": 7, "domainColor": "#999999", "domainWidth": 2, "tickColor": "#333333", "labelOverlap": false, "labelFlush": false, "labelBound": false}},
            "y": {"field": "osc", "type": "quantitative", "scale": {"domain": [0, 101], "nice": false, "zero": false}}
          }
        },
        {
          "data": {"name": "oscTrend"},
          "mark": {"type": "line", "color": "#222222", "strokeWidth": 2, "strokeDash": [2, 2]},
          "encoding": {
            "x": {"field": "t", "type": "quantitative", "scale": {"domain": [-0.167, 143.833], "nice": false, "zero": false}},
            "y": {"field": "v", "type": "quantitative", "scale": {"domain": [0, 101], "nice": false, "zero": false}}
          }
        },
        {
          "data": {"name": "oscArrow"},
          "mark": {"type": "line", "color": "#333333", "strokeWidth": 1.2, "interpolate": "basis"},
          "encoding": {
            "x": {"field": "t", "type": "quantitative", "scale": {"domain": [-0.167, 143.833], "nice": false, "zero": false}},
            "y": {"field": "v", "type": "quantitative", "scale": {"domain": [0, 101], "nice": false, "zero": false}},
            "order": {"field": "k", "type": "quantitative"}
          }
        },
        {
          "data": {"name": "oscHead"},
          "mark": {"type": "point", "shape": "triangle-down", "filled": true, "color": "#222222", "size": 35, "opacity": 1, "angle": -30},
          "encoding": {
            "x": {"field": "t", "type": "quantitative", "scale": {"domain": [-0.167, 143.833], "nice": false, "zero": false}},
            "y": {"field": "v", "type": "quantitative", "scale": {"domain": [0, 101], "nice": false, "zero": false}}
          }
        }
      ]
    }
  ]
}
